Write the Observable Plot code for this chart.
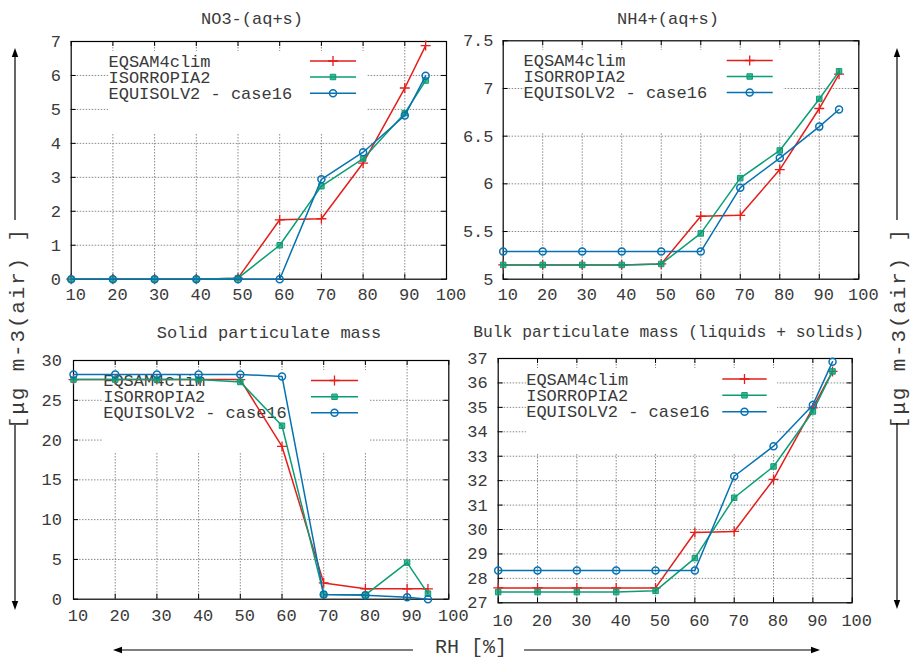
<!DOCTYPE html>
<html>
<head>
<meta charset="utf-8">
<script src="https://cdn.jsdelivr.net/npm/d3@7"></script>
<script src="https://cdn.jsdelivr.net/npm/@observablehq/plot@0.6"></script>
<style>
  body { margin: 0; background: #fff; }
  #chart { position: relative; width: 911px; height: 658px; background: #fff; }
  #chart svg { position: absolute; left: 0; top: 0; }
</style>
</head>
<body>
<div id="chart"></div>
<script>
// ---------- data ----------
const rh = [10, 20, 30, 40, 50, 60, 70, 80, 90, 95];
const xTicks = [10, 20, 30, 40, 50, 60, 70, 80, 90, 100];
const models = ["EQSAM4clim", "ISORROPIA2", "EQUISOLV2 - case16"];

const no3Eqsam = [0, 0, 0, 0, 0.03, 1.75, 1.78, 3.42, 5.63, 6.88];
const no3Isorropia = [0, 0, 0, 0, 0.03, 1.0, 2.74, 3.55, 4.89, 5.85];
const no3Equisolv = [0, 0, 0, 0, 0, 0, 2.94, 3.74, 4.82, 5.99];

const nh4Eqsam = [5.15, 5.15, 5.15, 5.15, 5.16, 5.66, 5.67, 6.15, 6.79, 7.15];
const nh4Isorropia = [5.15, 5.15, 5.15, 5.15, 5.16, 5.48, 6.06, 6.35, 6.89, 7.18];
const nh4Equisolv = [5.29, 5.29, 5.29, 5.29, 5.29, 5.29, 5.96, 6.27, 6.60, 6.78];

const solidEqsam = [27.6, 27.6, 27.6, 27.6, 27.6, 19.2, 2.05, 1.3, 1.3, 1.3];
const solidIsorropia = [27.6, 27.6, 27.6, 27.6, 27.3, 21.8, 0.6, 0.55, 4.6, 0.7];
const solidEquisolv = [28.25, 28.25, 28.25, 28.25, 28.25, 28.0, 0.6, 0.5, 0.25, 0.0];

const bulkEqsam = [27.61, 27.61, 27.61, 27.61, 27.61, 29.88, 29.92, 32.05, 34.98, 36.47];
const bulkIsorropia = [27.44, 27.44, 27.44, 27.44, 27.49, 28.83, 31.3, 32.58, 34.83, 36.47];
const bulkEquisolv = [28.32, 28.32, 28.32, 28.32, 28.32, 28.32, 32.18, 33.41, 35.1, 36.87];

const no3Ticks = [0, 1, 2, 3, 4, 5, 6, 7];
const nh4Ticks = [5, 5.5, 6, 6.5, 7, 7.5];
const solidTicks = [0, 5, 10, 15, 20, 25, 30];
const bulkTicks = [27, 28, 29, 30, 31, 32, 33, 34, 35, 36, 37];

const titles = ["NO3-(aq+s)", "NH4+(aq+s)", "Solid particulate mass", "Bulk particulate mass (liquids + solids)"];
const yLabel = "[μg m-3(air) ]";
const xLabel = "RH [%]";

// ---------- styles / layout ----------
const W = 911, H = 658;
const colors = ["#e41e1a", "#0a9e74", "#0672b2"];
const FONT = "'Liberation Mono', 'DejaVu Sans Mono', monospace";
const TEXT = "#3a3a3a";

const panels = [
  { series: [no3Eqsam, no3Isorropia, no3Equisolv], yDomain: [0, 7], yTicks: no3Ticks,
    frame: [70.7, 446, 41, 278.7], xPad: 9, yPad: 10.3, title: titles[0], titlePos: [252, 18.3],
    legend: { box: [108, 51, 367, 133], textX: 108.5, rows: [61, 77, 93.3], sample: [310, 356] } },
  { series: [nh4Eqsam, nh4Isorropia, nh4Equisolv], yDomain: [5, 7.5], yTicks: nh4Ticks,
    frame: [502.7, 858.3, 40.3, 278.7], xPad: 9, yPad: 9.7, title: titles[1], titlePos: [668, 18],
    legend: { box: [524, 50, 783, 133], textX: 523.5, rows: [60.5, 76.5, 92.5], sample: [726.7, 772.7] } },
  { series: [solidEqsam, solidIsorropia, solidEquisolv], yDomain: [0, 30], yTicks: solidTicks,
    frame: [73, 448.3, 360, 598.7], xPad: 9.3, yPad: 11.6, title: titles[2], titlePos: [269, 332.3],
    legend: { box: [103, 370, 369, 453], textX: 103.2, rows: [380.5, 396.8, 412.8], sample: [311, 358] } },
  { series: [bulkEqsam, bulkIsorropia, bulkEquisolv], yDomain: [27, 37], yTicks: bulkTicks,
    frame: [497.7, 851.7, 358, 602.3], xPad: 11, yPad: 10.6, title: titles[3], titlePos: [668.7, 332],
    legend: { box: [526, 368, 777, 453], textX: 526.2, rows: [379, 395.3, 411.8], sample: [722.3, 766.7] } }
];

function markerOpts(i) {
  if (i === 0) return { symbol: "plus", r: 3.3, stroke: colors[0], strokeWidth: 1.3, fill: "none" };
  if (i === 1) return { symbol: "square", r: 3.1, fill: colors[1], fillOpacity: 0.75, stroke: colors[1], strokeWidth: 1 };
  return { symbol: "circle", r: 3.5, fill: "none", stroke: colors[2], strokeWidth: 1.5 };
}

const chart = document.getElementById("chart");

panels.forEach(p => {
  const [fl, fr, ft, fb] = p.frame;
  const innerW = fr - fl, innerH = fb - ft;
  const grid = { stroke: "#8a8a8a", strokeWidth: 1, strokeDasharray: "1.5,1.5" };
  const tick = { stroke: "#000", strokeWidth: 1 };
  const marks = [
    Plot.ruleX(xTicks.slice(1, -1), grid),
    Plot.ruleY(p.yTicks.slice(1, -1), grid),
    Plot.tickX(xTicks, { x: d => d, ...tick, insetTop: innerH - 5 }),
    Plot.tickX(xTicks, { x: d => d, ...tick, insetBottom: innerH - 5 }),
    Plot.tickY(p.yTicks, { y: d => d, ...tick, insetRight: innerW - 5 }),
    Plot.tickY(p.yTicks, { y: d => d, ...tick, insetLeft: innerW - 5 }),
    Plot.axisX(xTicks, { label: null, tickSize: 0, tickPadding: p.xPad, dx: 4.5, tickFormat: d => String(d) }),
    Plot.axisY(p.yTicks, { label: null, tickSize: 0, tickPadding: p.yPad, tickFormat: d => String(d) }),
    Plot.frame({ stroke: "#000", strokeWidth: 1.2 })
  ];
  p.series.forEach((vals, i) => {
    const rows = rh.map((x, j) => ({ x, y: vals[j], model: models[i] }));
    marks.push(Plot.line(rows, { x: "x", y: "y", stroke: colors[i], strokeWidth: 1.5 }));
    marks.push(Plot.dot(rows, { x: "x", y: "y", ...markerOpts(i) }));
  });
  const svg = Plot.plot({
    width: W, height: H,
    marginLeft: fl, marginRight: W - fr, marginTop: ft, marginBottom: H - fb,
    x: { domain: [10, 100] },
    y: { domain: p.yDomain },
    style: { background: "transparent", fontFamily: FONT, fontSize: "17px", color: TEXT, overflow: "visible" },
    marks
  });
  chart.appendChild(svg);

  // legend (opaque key box, drawn below the data lines)
  const firstLine = svg.querySelector('g[aria-label="line"]');
  const lg = d3.create("svg:g").attr("aria-label", "legend");
  const L = p.legend;
  lg.append("rect").attr("x", L.box[0]).attr("y", L.box[1])
    .attr("width", L.box[2] - L.box[0]).attr("height", L.box[3] - L.box[1]).attr("fill", "#fff");
  models.forEach((m, i) => {
    const y = L.rows[i];
    lg.append("text").attr("x", L.textX).attr("y", y + 5.5).attr("fill", TEXT)
      .attr("text-anchor", "start")
      .attr("font-family", FONT).attr("font-size", 17).style("white-space", "pre").text(m);
    lg.append("line").attr("x1", L.sample[0]).attr("x2", L.sample[1]).attr("y1", y).attr("y2", y)
      .attr("stroke", colors[i]).attr("stroke-width", 1.5);
    const mo = markerOpts(i);
    const symType = i === 0 ? d3.symbolPlus : i === 1 ? d3.symbolSquare : d3.symbolCircle;
    lg.append("path").attr("d", d3.symbol(symType, mo.r * mo.r * Math.PI)())
      .attr("transform", `translate(${(L.sample[0] + L.sample[1]) / 2},${y})`)
      .attr("fill", mo.fill).attr("fill-opacity", mo.fillOpacity ?? 1)
      .attr("stroke", mo.stroke).attr("stroke-width", mo.strokeWidth);
  });
  svg.insertBefore(lg.node(), firstLine);
});

// ---------- overlay: titles, axis labels, arrows ----------
const ov = d3.create("svg").attr("width", W).attr("height", H)
  .style("font-family", FONT).style("pointer-events", "none");
panels.forEach((p, i) => {
  ov.append("text").attr("x", p.titlePos[0]).attr("y", p.titlePos[1]).attr("dy", "0.33em")
    .attr("text-anchor", "middle").attr("font-size", i === 3 ? 16.3 : 17).attr("fill", TEXT)
    .style("white-space", "pre").text(p.title);
});
[17, 898].forEach(x => {
  ov.append("text").attr("transform", `translate(${x},329) rotate(-90)`).attr("dy", "0.33em")
    .attr("text-anchor", "middle").attr("font-size", 21).attr("fill", TEXT)
    .attr("textLength", 200).attr("lengthAdjust", "spacing")
    .style("white-space", "pre").text(yLabel);
});
ov.append("text").attr("x", 435).attr("y", 653).attr("font-size", 20)
  .attr("text-anchor", "start").attr("fill", TEXT).style("white-space", "pre").text(xLabel);

function arrow(x1, y1, x2, y2) {
  const ang = Math.atan2(y2 - y1, x2 - x1);
  const len = 9, half = 3.2;
  const bx = x2 - len * Math.cos(ang), by = y2 - len * Math.sin(ang);
  ov.append("line").attr("x1", x1).attr("y1", y1).attr("x2", bx).attr("y2", by)
    .attr("stroke", "#000").attr("stroke-width", 1.2);
  const px = -Math.sin(ang) * half, py = Math.cos(ang) * half;
  ov.append("path").attr("d", `M${x2},${y2}L${bx + px},${by + py}L${bx - px},${by - py}Z`).attr("fill", "#000");
}
arrow(15, 220, 15, 48);
arrow(15, 425, 15, 610);
arrow(897, 220, 897, 48);
arrow(897, 423, 897, 609);
arrow(413, 650, 113, 650);
arrow(524, 650, 820, 650);
chart.appendChild(ov.node());
</script>
</body>
</html>
